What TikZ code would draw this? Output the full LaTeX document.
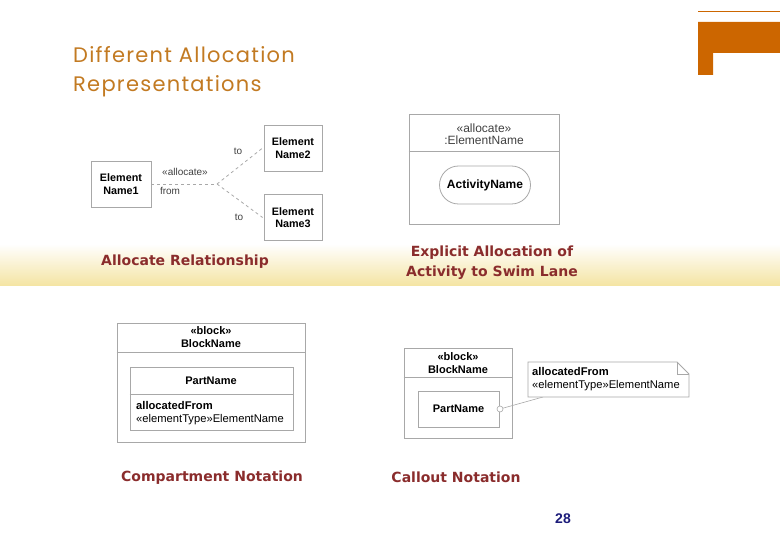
\documentclass[tikz,border=0pt]{standalone}
\usepackage{fontspec}
\setmainfont{Liberation Sans}
\newfontfamily\titlefont[LetterSpace=6]{Poppins}
\newfontfamily\captfont{DejaVu Sans}
\usetikzlibrary{positioning, arrows.meta, calc}
\definecolor{SlideOrange}{HTML}{CC6600}
\definecolor{TitleBrown}{HTML}{C27A22}
\definecolor{CaptRed}{HTML}{8A2C2C}
\definecolor{BandYellow}{HTML}{F4E4A2}
\definecolor{BoxGray}{HTML}{A8A8A8}
\definecolor{PageBlue}{HTML}{1C1C7A}

\begin{document}
\begin{tikzpicture}[x=1pt, y=-1pt,
    elbox/.style={draw=BoxGray, line width=0.8pt, align=center, font=\fontsize{10.8}{12.5}\selectfont\bfseries, inner sep=0pt},
    lbl/.style={font=\fontsize{10}{12}\selectfont, text=black!75, inner sep=0pt},
    capt/.style={font=\captfont\fontsize{14}{20}\selectfont\bfseries, text=CaptRed, align=center, inner sep=0pt},
    umlline/.style={draw=BoxGray, line width=0.8pt}]
  \useasboundingbox (0,0) rectangle (780,540);

  % Band
  \shade[top color=white, bottom color=BandYellow] (0,244) rectangle (780,286);

  % Logo
  \draw[SlideOrange, line width=0.6pt] (698,11) -- (780,11);
  \fill[SlideOrange] (698,22) -- (780,22) -- (780,53) -- (713,53) -- (713,75) -- (698,75) -- cycle;

  % Titel
  \node[font=\titlefont\fontsize{21}{29}\selectfont, text=TitleBrown, align=left, anchor=north west, inner sep=0pt] (title) at (73,46) {Different Allocation\\Representations};

  % Allocate relationship
  \node[elbox, minimum width=60pt, minimum height=46pt] (name1) at (121,184) {Element\\Name1};
  \node[elbox, minimum width=58pt, minimum height=46pt] (name2) at (293,148) {Element\\Name2};
  \node[elbox, minimum width=58pt, minimum height=46pt] (name3) at (293,217.5) {Element\\Name3};
  \coordinate (fork) at (217,184);
  \draw[umlline, dashed] (name1.east) -- (fork);
  \draw[umlline, dashed] (fork) -- ([xshift=-1pt]name2.west);
  \draw[umlline, dashed] (fork) -- ([xshift=-1pt]name3.west);
  \node[lbl] (lblto1) at (238,151) {to};
  \node[lbl] (lblalloc) at (185,172) {«allocate»};
  \node[lbl] (lblfrom) at (170,191) {from};
  \node[lbl] (lblto2) at (239,217) {to};
  \node[capt] (cap1) at (185,262) {Allocate Relationship};

  % Swim lane
  \node[umlline, minimum width=150pt, minimum height=110pt, inner sep=0pt] (lane) at (484,169) {};
  \draw[umlline] (lane.north west) ++(0,38) -- ++(150,0);
  \node[lbl, align=center, font=\fontsize{12}{12.5}\selectfont] (lanename) at (484,134) {«allocate»\\:ElementName};
  \node[draw=BoxGray, line width=0.8pt, rounded corners=19pt, minimum width=91pt, minimum height=38pt, font=\fontsize{12}{14}\selectfont\bfseries] (activity) at (485,185) {ActivityName};
  \node[capt] (cap2) at (492,263) {Explicit Allocation of\\Activity to Swim Lane};

  % Compartment notation
  \node[umlline, minimum width=188pt, minimum height=119pt, inner sep=0pt] (block1) at (211,382.5) {};
  \draw[umlline] (block1.north west) ++(0,30) -- ++(188,0);
  \node[elbox, draw=none, font=\fontsize{11}{12.5}\selectfont\bfseries] (block1name) at (211,337) {«block»\\BlockName};
  \node[umlline, minimum width=163pt, minimum height=63pt, inner sep=0pt] (part1) at (211.5,398.5) {};
  \draw[umlline] (part1.north west) ++(0,28) -- ++(163,0);
  \node[elbox, draw=none, font=\fontsize{11}{12.5}\selectfont\bfseries] (part1name) at (211,381) {PartName};
  \node[lbl, anchor=west, align=left, text=black, font=\fontsize{11.2}{12.5}\selectfont] (part1alloc) at (136,413) {\textbf{allocatedFrom}\\«elementType»ElementName};
  \node[capt] (cap3) at (212,478) {Compartment Notation};

  % Callout notation
  \node[umlline, minimum width=108pt, minimum height=90pt, inner sep=0pt] (block2) at (458,393) {};
  \draw[umlline] (block2.north west) ++(0,30) -- ++(108,0);
  \node[elbox, draw=none, font=\fontsize{11}{12.5}\selectfont\bfseries] (block2name) at (458,363) {«block»\\BlockName};
  \node[elbox, minimum width=81pt, minimum height=36pt, font=\fontsize{11}{12.5}\selectfont\bfseries] (part2) at (458.5,409) {PartName};
  \node[draw=BoxGray, line width=0.6pt, circle, minimum size=6pt, inner sep=0pt, fill=white] (port) at (500,409) {};
  \coordinate (notefoot) at (543,397);
  \draw[BoxGray, line width=0.6pt] (port) -- (notefoot);
  \draw[umlline, fill=white] (528,362) -- (677,362) -- (689,374) -- (689,397) -- (528,397) -- cycle;
  \draw[umlline] (677,362) -- (677,374) -- (689,374);
  \node[lbl, anchor=west, align=left, text=black, font=\fontsize{11.2}{12.5}\selectfont] (note) at (532,379) {\textbf{allocatedFrom}\\«elementType»ElementName};
  \node[capt] (cap4) at (456,477) {Callout Notation};

  % Seitenzahl
  \node[font=\fontsize{14}{16}\selectfont\bfseries, text=PageBlue] (pagenum) at (563,519) {28};
\end{tikzpicture}
\end{document}
